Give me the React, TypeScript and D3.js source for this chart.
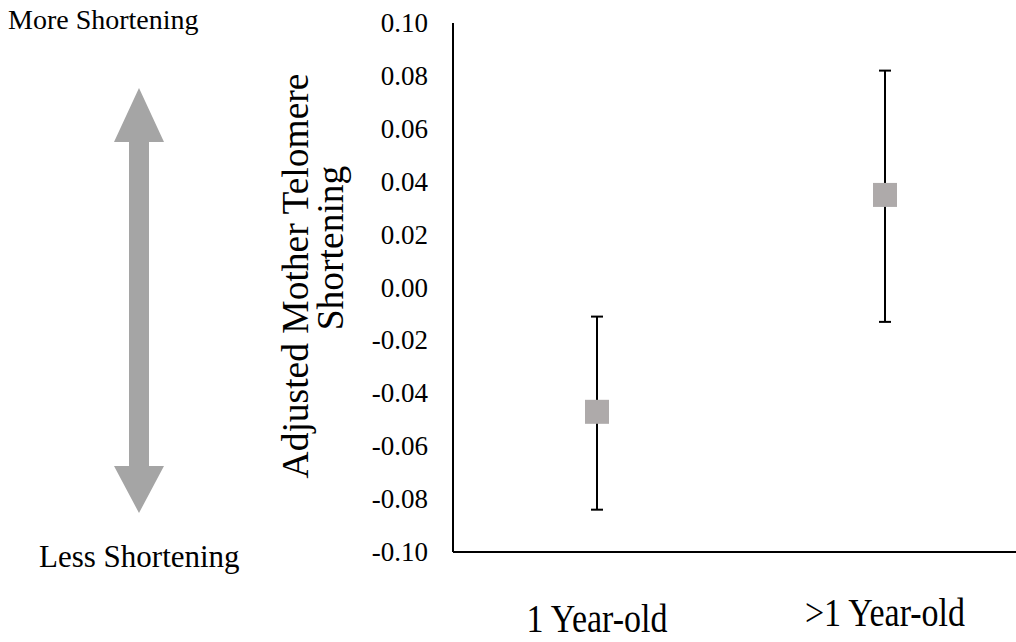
import * as d3 from "d3";
import { useEffect, useRef } from "react";

const categories = ["1 Year-old", ">1 Year-old"];
const means = [-0.047, 0.035];
const upper = [-0.011, 0.082];
const lower = [-0.084, -0.013];
const yTicks = [0.1, 0.08, 0.06, 0.04, 0.02, 0, -0.02, -0.04, -0.06, -0.08, -0.1];

const W = 1016;
const H = 642;
const FONT = "'Liberation Serif', 'Times New Roman', serif";

const App = () => {
  const ref = useRef<SVGSVGElement | null>(null);

  useEffect(() => {
    if (!ref.current) return;
    const svg = d3.select(ref.current);
    svg.selectAll("*").remove();

    const x = d3.scaleBand<string>().domain(categories).range([453, 1029]);
    const y = d3.scaleLinear().domain([-0.1, 0.1]).range([552, 23]);
    const fmt = (v: number) => d3.format(".2f")(v).replace("\u2212", "-");

    const g = svg.append("g").attr("font-family", FONT).attr("fill", "#000");

    // axes
    g.append("line")
      .attr("x1", x.range()[0])
      .attr("x2", x.range()[0])
      .attr("y1", y(0.1))
      .attr("y2", y(-0.1))
      .attr("stroke", "#000")
      .attr("stroke-width", 2);
    g.append("line")
      .attr("x1", x.range()[0])
      .attr("x2", x.range()[1])
      .attr("y1", y(-0.1))
      .attr("y2", y(-0.1))
      .attr("stroke", "#000")
      .attr("stroke-width", 2);

    g.selectAll("text.ytick")
      .data(yTicks)
      .join("text")
      .attr("class", "ytick")
      .attr("x", 428)
      .attr("y", (d) => y(d) + 9)
      .attr("text-anchor", "end")
      .attr("font-size", 27)
      .text((d) => fmt(d));

    // category labels, slightly tall like the source
    g.selectAll("text.xlab")
      .data(categories)
      .join("text")
      .attr("class", "xlab")
      .attr(
        "transform",
        (d, i) =>
          `translate(${x(d)! + x.bandwidth() / 2},${i === 0 ? 632 : 626}) scale(1,1.15)`
      )
      .attr("text-anchor", "middle")
      .attr("font-size", 34)
      .text((d) => d);

    // y title
    const title = g
      .append("text")
      .attr("transform", "translate(0,276) rotate(-90)")
      .attr("text-anchor", "middle")
      .attr("font-size", 37.5);
    title.append("tspan").attr("x", 0).attr("y", 308).text("Adjusted Mother Telomere");
    title.append("tspan").attr("x", 28).attr("y", 343).text("Shortening");

    // error bars
    const cx = (i: number) => x(categories[i])! + x.bandwidth() / 2;
    const idx = d3.range(categories.length);
    g.selectAll("line.err")
      .data(idx)
      .join("line")
      .attr("class", "err")
      .attr("x1", cx)
      .attr("x2", cx)
      .attr("y1", (i) => y(upper[i]))
      .attr("y2", (i) => y(lower[i]))
      .attr("stroke", "#000")
      .attr("stroke-width", 2);
    const caps = idx.flatMap((i) => [upper[i], lower[i]].map((v) => ({ i, v })));
    g.selectAll("line.cap")
      .data(caps)
      .join("line")
      .attr("class", "cap")
      .attr("x1", (d) => cx(d.i) - 6)
      .attr("x2", (d) => cx(d.i) + 6)
      .attr("y1", (d) => y(d.v))
      .attr("y2", (d) => y(d.v))
      .attr("stroke", "#000")
      .attr("stroke-width", 2);

    g.selectAll("rect.pt")
      .data(idx)
      .join("rect")
      .attr("class", "pt")
      .attr("x", (i) => cx(i) - 12)
      .attr("y", (i) => y(means[i]) - 12)
      .attr("width", 24)
      .attr("height", 24)
      .attr("fill", "#aeaaaa");

    // double arrow annotation
    const ax = 139;
    const path = d3.path();
    path.moveTo(ax, 88);
    path.lineTo(ax + 25, 142);
    path.lineTo(ax + 10, 142);
    path.lineTo(ax + 10, 466);
    path.lineTo(ax + 25, 466);
    path.lineTo(ax, 513);
    path.lineTo(ax - 25, 466);
    path.lineTo(ax - 10, 466);
    path.lineTo(ax - 10, 142);
    path.lineTo(ax - 25, 142);
    path.closePath();
    g.append("path").attr("d", path.toString()).attr("fill", "#a5a5a5");

    g.append("text")
      .attr("x", 8)
      .attr("y", 29)
      .attr("font-size", 28)
      .text("More Shortening");
    g.append("text")
      .attr("x", 39)
      .attr("y", 567)
      .attr("font-size", 31)
      .text("Less Shortening");
  }, []);

  return (
    <svg
      ref={ref}
      width={W}
      height={H}
      style={{ position: "absolute", left: 0, top: 0, background: "#fff" }}
    />
  );
};

export default App;
